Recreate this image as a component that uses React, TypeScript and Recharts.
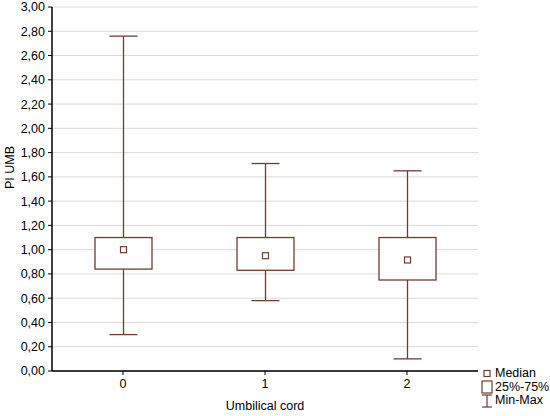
import React from 'react'
import {
  ComposedChart,
  Bar,
  XAxis,
  YAxis,
  CartesianGrid,
} from 'recharts'

const categories = ['0', '1', '2']
const mins = [0.3, 0.58, 0.1]
const q1s = [0.84, 0.83, 0.75]
const medians = [1.0, 0.95, 0.915]
const q3s = [1.1, 1.1, 1.1]
const maxs = [2.76, 1.71, 1.65]
const yTicks = [0, 0.2, 0.4, 0.6, 0.8, 1, 1.2, 1.4, 1.6, 1.8, 2, 2.2, 2.4, 2.6, 2.8, 3]
const legendLabels = ['Median', '25%-75%', 'Min-Max']

const BROWN = '#703c30'
const FONT = 'Arial, "Liberation Sans", sans-serif'

const data = categories.map((cat, i) => ({
  cat,
  min: mins[i],
  q1: q1s[i],
  median: medians[i],
  q3: q3s[i],
  max: maxs[i],
}))

const fmt = (v: number) => v.toFixed(2).replace('.', ',')

function BoxShape(props: any) {
  const { x, y, width, height, payload } = props
  if (!payload) return null
  const { min, q1, median, q3, max } = payload
  const perUnit = height / (max - min)
  const py = (v: number) => y + (max - v) * perUnit
  const cx = x + width / 2
  const cap = 14
  return (
    <g>
      <line x1={cx} x2={cx} y1={py(max)} y2={py(q3)} stroke={BROWN} strokeWidth={1.3} />
      <line x1={cx} x2={cx} y1={py(q1)} y2={py(min)} stroke={BROWN} strokeWidth={1.3} />
      <line x1={cx - cap} x2={cx + cap} y1={py(max)} y2={py(max)} stroke={BROWN} strokeWidth={1.3} />
      <line x1={cx - cap} x2={cx + cap} y1={py(min)} y2={py(min)} stroke={BROWN} strokeWidth={1.3} />
      <rect x={x} y={py(q3)} width={width} height={py(q1) - py(q3)} fill="#fff" stroke={BROWN} strokeWidth={1.3} />
      <rect x={cx - 3} y={py(median) - 3} width={6} height={6} fill="#fff" stroke={BROWN} strokeWidth={1.2} />
    </g>
  )
}

function LegendIcon({ kind }: { kind: number }) {
  if (kind === 0) {
    return (
      <svg width={12} height={13}>
        <rect x={3} y={3.5} width={6} height={6} fill="#fff" stroke={BROWN} strokeWidth={1.2} />
      </svg>
    )
  }
  if (kind === 1) {
    return (
      <svg width={12} height={14}>
        <rect x={1} y={1} width={10} height={12} fill="#fff" stroke={BROWN} strokeWidth={1.2} />
      </svg>
    )
  }
  return (
    <svg width={12} height={14}>
      <line x1={6} x2={6} y1={1} y2={13} stroke={BROWN} strokeWidth={1.2} />
      <line x1={1} x2={11} y1={1} y2={1} stroke={BROWN} strokeWidth={1.2} />
      <line x1={1} x2={11} y1={13} y2={13} stroke={BROWN} strokeWidth={1.2} />
    </svg>
  )
}

export default function App() {
  return (
    <div style={{ position: 'absolute', left: 0, top: 0, width: 550, height: 416, background: '#fff' }}>
      <ComposedChart
        width={550}
        height={416}
        data={data}
        margin={{ top: 7, right: 72, bottom: 0, left: 0 }}
      >
        <CartesianGrid vertical={false} stroke="#d9d9d9" strokeWidth={1} />
        <XAxis
          dataKey="cat"
          height={45}
          tickSize={4}
          tickLine={{ stroke: '#000' }}
          axisLine={{ stroke: '#000', strokeWidth: 1.5 }}
          tick={{ fill: '#000', fontSize: 12.5, fontFamily: FONT }}
          tickMargin={4}
          label={{ value: 'Umbilical cord', position: 'insideBottom', offset: 6, fill: '#000', fontSize: 12.5, fontFamily: FONT }}
        />
        <XAxis
          dataKey="cat"
          xAxisId="top"
          orientation="top"
          height={0}
          mirror
          tick={false}
          tickSize={4}
          tickLine={{ stroke: '#000' }}
          axisLine={{ stroke: '#000', strokeWidth: 1.5 }}
        />
        <YAxis
          domain={[0, 3]}
          ticks={yTicks}
          width={52}
          interval={0}
          tickSize={4}
          tickLine={{ stroke: '#000' }}
          tickFormatter={fmt}
          tickMargin={3}
          axisLine={{ stroke: '#000', strokeWidth: 1.5 }}
          tick={{ fill: '#000', fontSize: 12.5, fontFamily: FONT }}
          label={{ value: 'PI UMB', angle: -90, position: 'insideLeft', offset: 10, fill: '#000', fontSize: 12.5, fontFamily: FONT }}
        />
        <YAxis
          yAxisId="right"
          orientation="right"
          domain={[0, 3]}
          ticks={yTicks}
          width={0}
          mirror
          tick={false}
          tickSize={4}
          tickLine={{ stroke: '#000' }}
          axisLine={{ stroke: '#000', strokeWidth: 1.5 }}
        />
        <Bar
          dataKey={(d: any) => [d.min, d.max]}
          barSize={57}
          shape={<BoxShape />}
          isAnimationActive={false}
        />
      </ComposedChart>
      <div
        style={{
          position: 'absolute',
          left: 481,
          top: 367,
          fontFamily: FONT,
          fontSize: 12.5,
          color: '#000',
          lineHeight: '13.5px',
        }}
      >
        {legendLabels.map((label, i) => (
          <div key={label} style={{ display: 'flex', alignItems: 'center', height: 13.5 }}>
            <LegendIcon kind={i} />
            <span style={{ marginLeft: 2 }}>{label}</span>
          </div>
        ))}
      </div>
    </div>
  )
}
